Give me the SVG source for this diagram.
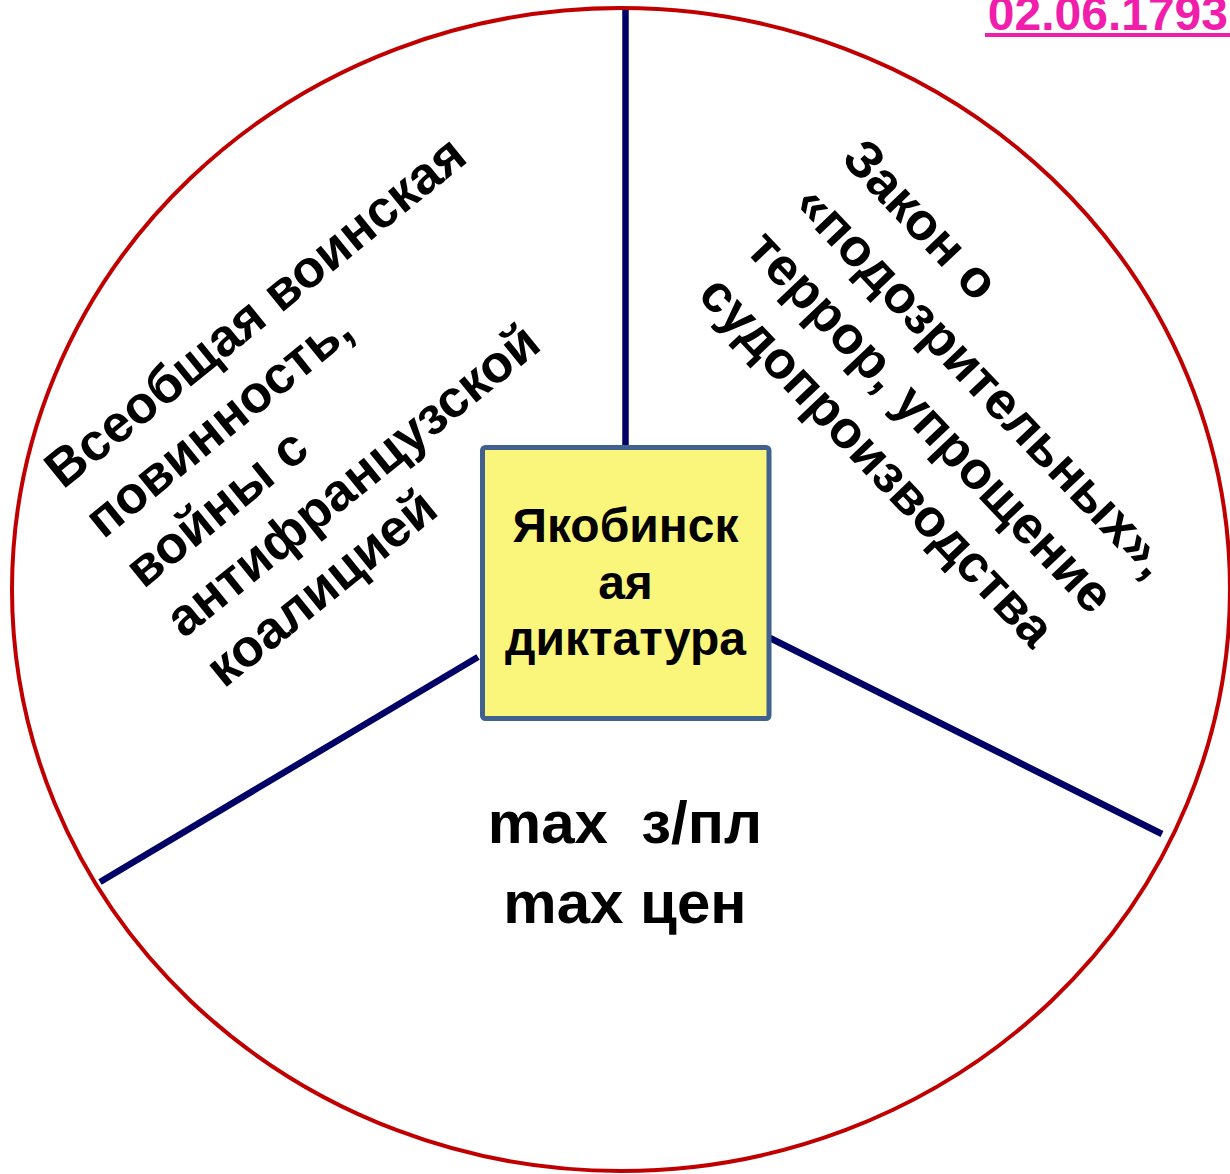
<svg xmlns="http://www.w3.org/2000/svg" width="1230" height="1174" viewBox="0 0 1230 1174">
<style>
.t{font-family:"Liberation Sans",Arial,sans-serif;font-weight:bold;fill:#000}
.conn{stroke:#000066;stroke-width:6.5;fill:none}
</style>
<rect width="1230" height="1174" fill="#fff"/>
<g id="circle">
<ellipse cx="621" cy="589.5" rx="609" ry="581.5" fill="none" stroke="#C00000" stroke-width="4"/>
</g>
<g id="connectors">
<line class="conn" x1="625.5" y1="10" x2="625.5" y2="447"/>
<line class="conn" x1="100" y1="882" x2="478" y2="657"/>
<line class="conn" x1="768" y1="637" x2="1162" y2="834"/>
</g>
<g id="center">
<rect x="482.5" y="447.5" width="286.5" height="271" rx="3" fill="#FAF67C" stroke="#41618F" stroke-width="5"/>
<text class="t" font-size="48" text-anchor="middle"><tspan x="625.5" y="542">Якобинск</tspan><tspan x="625.5" y="599">ая</tspan><tspan x="625.5" y="655">диктатура</tspan></text>
</g>
<g id="left">
<text class="t" font-size="52.5" transform="translate(63,490) rotate(-39)"><tspan x="0" y="0">Всеобщая воинская</tspan><tspan x="0" y="64">повинность,</tspan><tspan x="0" y="128">войны с</tspan><tspan x="0" y="192">антифранцузской</tspan><tspan x="0" y="256">коалицией</tspan></text>
</g>
<g id="right">
<text class="t" font-size="52.5" transform="translate(840,160) rotate(46.5)"><tspan x="0" y="0">Закон о</tspan><tspan x="0" y="66">«подозрительных»,</tspan><tspan x="0" y="132">террор, упрощение</tspan><tspan x="0" y="198">судопроизводства</tspan></text>
</g>
<g id="bottom">
<text class="t" font-size="60" text-anchor="middle" xml:space="preserve"><tspan x="625" y="843">max  з/пл</tspan><tspan x="625" y="923">max цен</tspan></text>
</g>
<g id="date">
<text class="t" font-size="48" text-anchor="end" x="1228" y="30" style="fill:#F01EAA">02.06.1793</text>
<rect x="985" y="33" width="245" height="4" fill="#F01EAA"/>
</g>
</svg>
